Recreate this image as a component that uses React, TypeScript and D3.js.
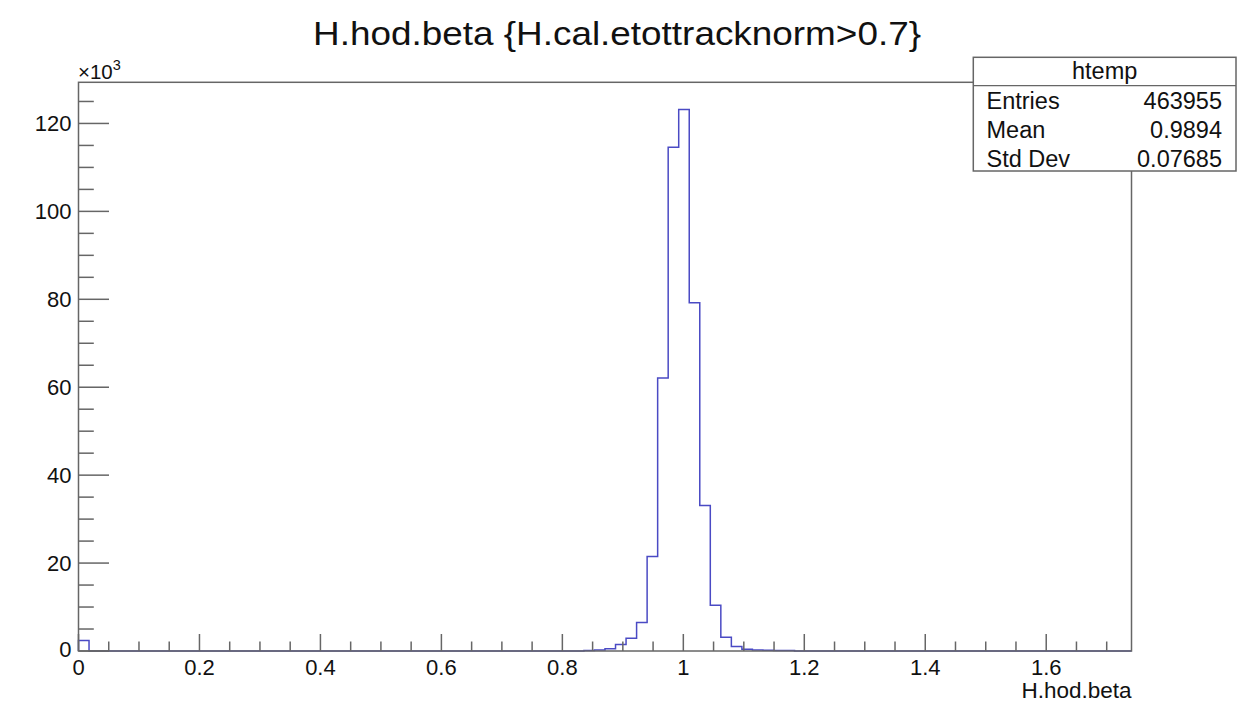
import React from "react";
import * as d3 from "d3";

// Histogram of H.hod.beta: 100 bins from 0 to 1.741, counts in thousands
const xMin = 0;
const xMax = 1.741;
const nBins = 100;
const counts: number[] = [
  2.4, 0, 0, 0, 0, 0, 0, 0, 0, 0,
  0, 0, 0, 0, 0, 0, 0, 0, 0, 0,
  0, 0, 0, 0, 0, 0, 0, 0, 0, 0,
  0, 0, 0, 0, 0, 0, 0, 0, 0, 0,
  0, 0, 0, 0, 0, 0, 0, 0, 0.1, 0.25,
  0.5, 1.5, 2.9, 6.5, 21.5, 62.1, 114.6, 123.2, 79.2, 33.1,
  10.4, 3.1, 1.0, 0.4, 0.2, 0.15, 0.1, 0.1, 0, 0,
  0, 0, 0, 0, 0, 0, 0, 0, 0, 0,
  0, 0, 0, 0, 0, 0, 0, 0, 0, 0,
  0, 0, 0, 0, 0, 0, 0, 0, 0, 0,
];

const xMajorTicks = [0, 0.2, 0.4, 0.6, 0.8, 1, 1.2, 1.4, 1.6];
const xTickLabels = ["0", "0.2", "0.4", "0.6", "0.8", "1", "1.2", "1.4", "1.6"];
const yMajorTicks = [0, 20, 40, 60, 80, 100, 120];
const yTickLabels = ["0", "20", "40", "60", "80", "100", "120"];

const title = "H.hod.beta {H.cal.etottracknorm>0.7}";
const xAxisTitle = "H.hod.beta";
const statsTitle = "htemp";
const statLabels = ["Entries", "Mean", "Std Dev"];
const statValues = ["463955", "0.9894", "0.07685"];

const W = 1245;
const H = 706;
const frame = { left: 78.5, right: 1131.5, top: 82.3, bottom: 651 };
const FONT = "'Liberation Sans', Arial, Helvetica, sans-serif";
const axisColor = "#666";
const lineColor = "#4a4ac4";
const textColor = "#111";

export default function App() {
  const x = d3.scaleLinear().domain([xMin, xMax]).range([frame.left, frame.right]);
  const yMax = d3.max(counts)! * 1.05;
  const y = d3.scaleLinear().domain([0, yMax]).range([frame.bottom, frame.top]);
  const bw = (xMax - xMin) / nBins;

  // step outline
  const pts: [number, number][] = [];
  pts.push([x(xMin), y(0)]);
  counts.forEach((c, i) => {
    pts.push([x(xMin + i * bw), y(c)]);
    pts.push([x(xMin + (i + 1) * bw), y(c)]);
  });
  pts.push([x(xMin + nBins * bw), y(0)]);
  const path = d3.line()(pts) || "";

  const xMinor = d3
    .range(0, 35)
    .map((i) => +(i * 0.05).toFixed(2))
    .filter((v) => v <= xMax && Math.abs(v / 0.2 - Math.round(v / 0.2)) > 1e-6);
  const yMinor = d3
    .range(0, 26)
    .map((i) => i * 5)
    .filter((v) => v <= yMax && v % 20 !== 0);

  const box = { left: 973.3, right: 1236, top: 57.3, header: 85.7, bottom: 171 };

  return (
    <svg width={W} height={H} style={{ position: "absolute", left: 0, top: 0, background: "#fff" }} fontFamily={FONT}>
      <rect x={0} y={0} width={W} height={H} fill="#fff" />
      {/* title */}
      <text x={313} y={45} fontSize={34} textLength={608} lengthAdjust="spacingAndGlyphs" fill={textColor}>{title}</text>

      {/* histogram */}
      <path d={path} fill="none" stroke={lineColor} strokeWidth={1.5} />

      {/* frame */}
      <rect x={frame.left} y={frame.top} width={frame.right - frame.left} height={frame.bottom - frame.top} fill="none" stroke={axisColor} strokeWidth={1.5} />

      {/* x ticks */}
      {xMajorTicks.map((v, i) => (
        <g key={"xm" + i}>
          <line x1={x(v)} x2={x(v)} y1={frame.bottom} y2={frame.bottom - 17} stroke={axisColor} strokeWidth={1.5} />
          <text x={x(v)} y={674.5} fontSize={22} textAnchor="middle" fill={textColor}>{xTickLabels[i]}</text>
        </g>
      ))}
      {xMinor.map((v, i) => (
        <line key={"xn" + i} x1={x(v)} x2={x(v)} y1={frame.bottom} y2={frame.bottom - 9.5} stroke={axisColor} strokeWidth={1.5} />
      ))}
      <text x={frame.right} y={698} fontSize={22.5} textAnchor="end" fill={textColor}>{xAxisTitle}</text>

      {/* y ticks */}
      {yMajorTicks.map((v, i) => (
        <g key={"ym" + i}>
          <line x1={frame.left} x2={frame.left + 30.5} y1={y(v)} y2={y(v)} stroke={axisColor} strokeWidth={1.5} />
          <text x={71.5} y={v === 0 ? y(v) + 5.7 : y(v) + 7.9} fontSize={22} textAnchor="end" fill={textColor}>{yTickLabels[i]}</text>
        </g>
      ))}
      {yMinor.map((v, i) => (
        <line key={"yn" + i} x1={frame.left} x2={frame.left + 15.3} y1={y(v)} y2={y(v)} stroke={axisColor} strokeWidth={1.5} />
      ))}
      <text x={78} y={78.5} fontSize={20.5} fill={textColor}>
        ×10<tspan fontSize={14.5} dy={-9}>3</tspan>
      </text>

      {/* stats box */}
      <rect x={box.left} y={box.top} width={box.right - box.left} height={box.bottom - box.top} fill="#fff" stroke={axisColor} strokeWidth={1.5} />
      <line x1={box.left} x2={box.right} y1={box.header} y2={box.header} stroke={axisColor} strokeWidth={1.2} />
      <text x={(box.left + box.right) / 2} y={78.5} fontSize={23.5} textAnchor="middle" fill={textColor}>{statsTitle}</text>
      {statLabels.map((l, i) => (
        <g key={"st" + i}>
          <text x={986.5} y={109.3 + i * 28.7} fontSize={23.5} fill={textColor}>{l}</text>
          <text x={1222} y={109.3 + i * 28.7} fontSize={23.5} textAnchor="end" fill={textColor}>{statValues[i]}</text>
        </g>
      ))}
    </svg>
  );
}
